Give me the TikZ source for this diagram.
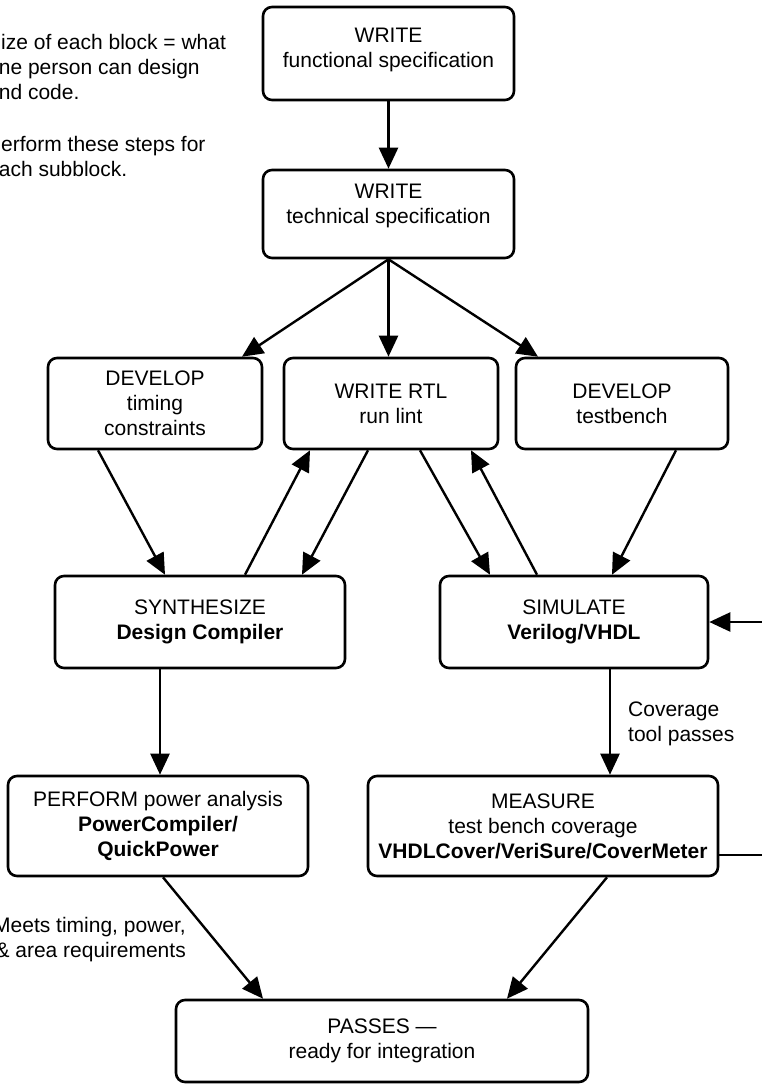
\documentclass[tikz,border=0pt]{standalone}
\usepackage{fontspec}
\setmainfont{Liberation Sans}
\usetikzlibrary{arrows.meta}
\begin{document}
\begin{tikzpicture}[x=1pt,y=-1pt,
  every node/.style={font=\fontsize{21}{25}\selectfont},
  box/.style={draw, line width=2.6pt, rounded corners=9pt, align=center, inner sep=0pt},
  arr/.style={line width=2.4pt, -{Triangle[length=21pt,width=19pt]}},
  plain/.style={line width=2.4pt},
  note/.style={inner sep=0pt, font=\fontsize{21}{25}\selectfont}]
\useasboundingbox (0,0) rectangle (762,1084);

% process blocks
\node[box, minimum width=251pt, minimum height=93pt, text depth=12.4pt] (F) at (388.5,53.5)
  {WRITE\\functional specification};
\node[box, minimum width=251pt, minimum height=88pt, text depth=21.4pt] (T) at (388.5,214)
  {WRITE\\technical specification};
\node[box, minimum width=214pt, minimum height=91pt] (D1) at (155,403.5)
  {DEVELOP\\timing\\constraints};
\node[box, minimum width=214pt, minimum height=91pt] (RTL) at (391,403.5)
  {WRITE RTL\\run lint};
\node[box, minimum width=212pt, minimum height=91pt] (D2) at (622,403.5)
  {DEVELOP\\testbench};
\node[box, minimum width=290pt, minimum height=92pt] (SYN) at (200,622)
  {SYNTHESIZE\\\textbf{Design Compiler}};
\node[box, minimum width=268pt, minimum height=92pt] (SIM) at (574,622)
  {SIMULATE\\\textbf{Verilog/VHDL}};
\node[box, minimum width=300pt, minimum height=100pt] (PWR) at (158,826)
  {PERFORM power analysis\\\textbf{PowerCompiler/}\\\textbf{QuickPower}};
\node[box, minimum width=350pt, minimum height=100pt] (MEAS) at (543,826)
  {MEASURE\\test bench coverage\\\textbf{VHDLCover/VeriSure/CoverMeter}};
\node[box, minimum width=412pt, minimum height=82pt] (PASS) at (382,1041)
  {PASSES ---\\ready for integration};

% side notes
\node[note, anchor=west, align=left] (n1) at (-13,67)
  {Size of each block = what\\one person can design\\and code.};
\node[note, anchor=west, align=left] (n2) at (-13,156.5)
  {Perform these steps for\\each subblock.};
\node[note, anchor=east, align=right] (n3) at (186,940)
  {Meets timing, power,\\\& area requirements};
\node[note, anchor=west, align=left] (n4) at (628,723.5)
  {Coverage\\tool passes};

% loop-back ends at the right margin
\coordinate (loopin) at (770,622);
\coordinate (loopout) at (770,855);

% connectors
\draw[arr] (F) -- (T);
\draw[arr] (T.south) -- ([xshift=87pt]D1.north);
\draw[arr] (T.south) -- (T.south |- RTL.north);
\draw[arr] (T.south) -- ([xshift=-84pt]D2.north);

\draw[arr] ([xshift=-57pt]D1.south) -- ([xshift=-35pt]SYN.north);
\draw[arr] ([xshift=45pt]SYN.north) -- ([xshift=-81pt]RTL.south);
\draw[arr] ([xshift=-23pt]RTL.south) -- ([xshift=102pt]SYN.north);
\draw[arr] ([xshift=29pt]RTL.south) -- ([xshift=-84pt]SIM.north);
\draw[arr] ([xshift=-37pt]SIM.north) -- ([xshift=80pt]RTL.south);
\draw[arr] ([xshift=54pt]D2.south) -- ([xshift=38pt]SIM.north);

\draw[arr] ([xshift=-40pt]SYN.south) -- ([xshift=-40pt]SYN.south |- PWR.north);
\draw[arr] ([xshift=36pt]SIM.south) -- ([xshift=36pt]SIM.south |- MEAS.north);

\draw[arr] ([xshift=5pt]PWR.south) -- ([xshift=-119pt]PASS.north);
\draw[arr] ([xshift=64pt]MEAS.south) -- ([xshift=125pt]PASS.north);

\draw[arr] (loopin) -- (loopin -| SIM.east);
\draw[plain] (loopout -| MEAS.east) -- (loopout);
\end{tikzpicture}
\end{document}
